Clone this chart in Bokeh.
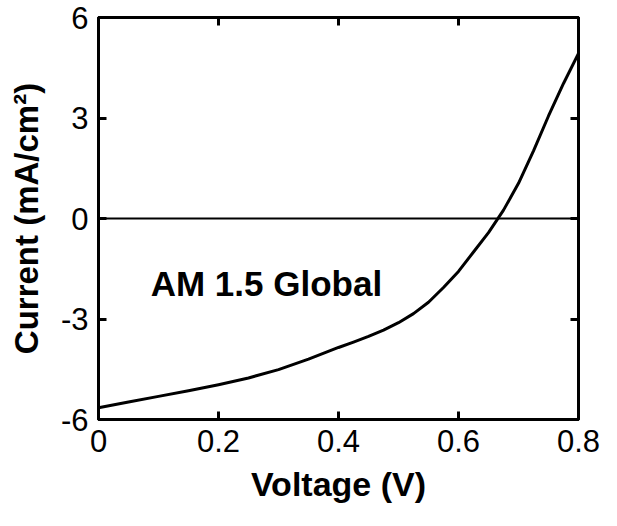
from bokeh.plotting import figure
from bokeh.models import Range1d, LinearAxis, FixedTicker, Span, Label
from bokeh.embed import file_html
from bokeh.resources import INLINE

# ---- data ----
voltage = [0.0, 0.05, 0.1, 0.15, 0.2, 0.25, 0.3, 0.35, 0.4, 0.425, 0.45,
           0.475, 0.5, 0.525, 0.55, 0.575, 0.6, 0.625, 0.65, 0.675, 0.7,
           0.725, 0.75, 0.775, 0.8]
current = [-5.65, -5.48, -5.31, -5.14, -4.96, -4.76, -4.51, -4.20, -3.85,
           -3.69, -3.52, -3.33, -3.11, -2.84, -2.50, -2.06, -1.58, -1.00,
           -0.42, 0.25, 1.05, 2.02, 3.06, 4.03, 4.93]
x_ticks = [0, 0.2, 0.4, 0.6, 0.8]
y_ticks = [-6, -3, 0, 3, 6]
x_tick_labels = ["0", "0.2", "0.4", "0.6", "0.8"]
y_tick_labels = ["-6", "-3", "0", "3", "6"]
zero_level = 0
x_title = "Voltage (V)"
y_title = "Current (mA/cm²)"
note_text = "AM 1.5 Global"
note_pos = (0.087, -1.94)

FONT = "Liberation Sans"

p = figure(width=601, height=515, output_backend="svg", toolbar_location=None,
           x_range=Range1d(0, 0.8), y_range=Range1d(-6, 6),
           min_border_left=98, min_border_right=23,
           min_border_top=17, min_border_bottom=96)
p.grid.visible = False
p.background_fill_color = "white"
p.border_fill_color = "white"
p.outline_line_color = "black"
p.outline_line_width = 3

xa = p.xaxis[0]
ya = p.yaxis[0]
xa.ticker = FixedTicker(ticks=x_ticks)
ya.ticker = FixedTicker(ticks=y_ticks)
xa.major_label_overrides = dict(zip(x_ticks, x_tick_labels))
ya.major_label_overrides = dict(zip(y_ticks, y_tick_labels))
for ax in (xa, ya):
    ax.axis_line_width = 3
    ax.axis_line_color = "black"
    ax.major_tick_in = 8
    ax.major_tick_out = 0
    ax.major_tick_line_width = 3
    ax.major_tick_line_color = "black"
    ax.minor_tick_line_color = None
    ax.major_label_text_font = FONT
    ax.major_label_text_font_size = "31px"
    ax.major_label_text_color = "black"
    ax.axis_label_text_font = FONT
    ax.axis_label_text_font_style = "bold"
    ax.axis_label_text_color = "black"
xa.major_label_standoff = 10
ya.major_label_standoff = 10
xa.axis_label = x_title
xa.axis_label_text_font_size = "34px"
xa.axis_label_standoff = 10
ya.axis_label = y_title
ya.axis_label_text_font_size = "33px"
ya.axis_label_standoff = 13

# mirrored inward ticks on the top and right edges
for loc, ticks in (("right", y_ticks), ("above", x_ticks)):
    ax = LinearAxis(ticker=FixedTicker(ticks=ticks), axis_line_width=3,
                    major_tick_in=8, major_tick_out=0, major_tick_line_width=3,
                    minor_tick_line_color=None, major_label_text_font_size="1px",
                    major_label_text_color=None, major_label_standoff=0)
    p.add_layout(ax, loc)

p.add_layout(Span(location=zero_level, dimension="width",
                  line_color="black", line_width=2))

p.line(voltage, current, line_color="black", line_width=3, line_join="round")

p.add_layout(Label(x=note_pos[0], y=note_pos[1], text=note_text,
                   text_font=FONT, text_font_style="bold",
                   text_font_size="35px", text_color="black",
                   text_baseline="alphabetic", text_align="left"))

open("out.html", "w").write(file_html(p, INLINE))
